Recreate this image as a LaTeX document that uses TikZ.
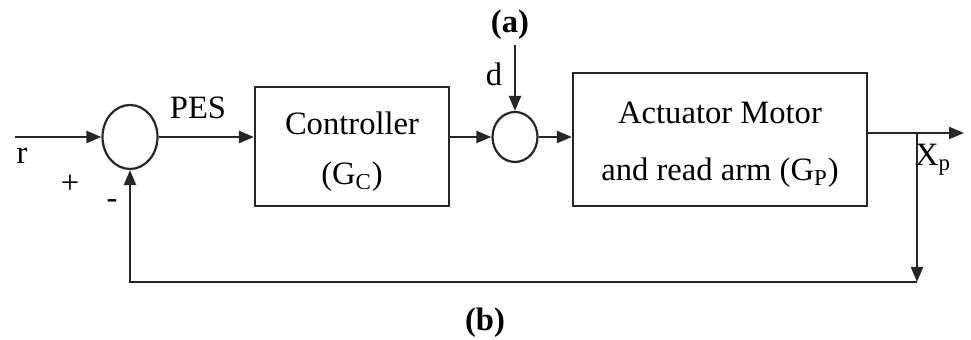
\documentclass[tikz,border=0pt]{standalone}
\usepackage{fontspec}
\setmainfont{Liberation Serif}
\usetikzlibrary{arrows.meta,shapes.geometric}
\begin{document}
\begin{tikzpicture}[x=0.5pt,y=-0.5pt,
  every node/.style={font=\fontsize{16.3}{20}\selectfont, inner sep=0pt},
  ln/.style={line width=1.1pt, draw=black!85},
  arr/.style={ln, -{Triangle[length=7.5pt,width=6pt]}},
  sumj/.style={ellipse, draw=black!85, line width=1.1pt, minimum width=#1},
  blk/.style={draw=black!85, line width=1.1pt}]
\useasboundingbox (0,0) rectangle (971,340);
% junctions and blocks
\node[sumj=27.5pt, minimum height=32pt] (s1) at (130,137) {};
\node[sumj=22.5pt, minimum height=25pt] (s2) at (515,137) {};
\node[blk, minimum width=97pt, minimum height=59.5pt,
  label={[yshift=-2.5pt, align=center, font=\fontsize{16.3}{25}\selectfont]center:Controller\\(G\textsubscript{C})}] (ctrl) at (352,146.5) {};
\node[blk, minimum width=147pt, minimum height=66.5pt,
  label={[yshift=-2.5pt, align=center, font=\fontsize{16.3}{28.5}\selectfont]center:Actuator Motor\\and read arm (G\textsubscript{P})}] (act) at (720,139.5) {};
% coordinates
\coordinate (in) at (15,137);
\coordinate (dtop) at (515,45);
\coordinate (br) at (917,133);
\coordinate (out) at (964,133);
\coordinate (c1) at (917,282);
\coordinate (c2) at (130,282);
% connectors
\draw[arr] (in) -- (s1.west);
\draw[arr] (s1.east) -- (ctrl.west |- s1.east);
\draw[arr] (ctrl.east |- s2.west) -- (s2.west);
\draw[arr] (s2.east) -- (act.west |- s2.east);
\draw[arr] (dtop) -- (s2.north);
\draw[arr] (act.east |- br) -- (out);
\draw[arr] (br) -- (c1);
\draw[arr] (c1) -- (c2) -- (s1.south);
% labels
\node (lr) at (22,156) {r};
\node (lplus) at (70,184) {+};
\node (lminus) at (112,204) {-};
\node (lpes) at (198,108) {PES};
\node (ld) at (494,74) {d};
\node (la) at (510,25) {\textbf{(a)}};
\node (lx) at (933,160) {X\textsubscript{p}};
\node (lb) at (485,323) {\textbf{(b)}};
\end{tikzpicture}
\end{document}
